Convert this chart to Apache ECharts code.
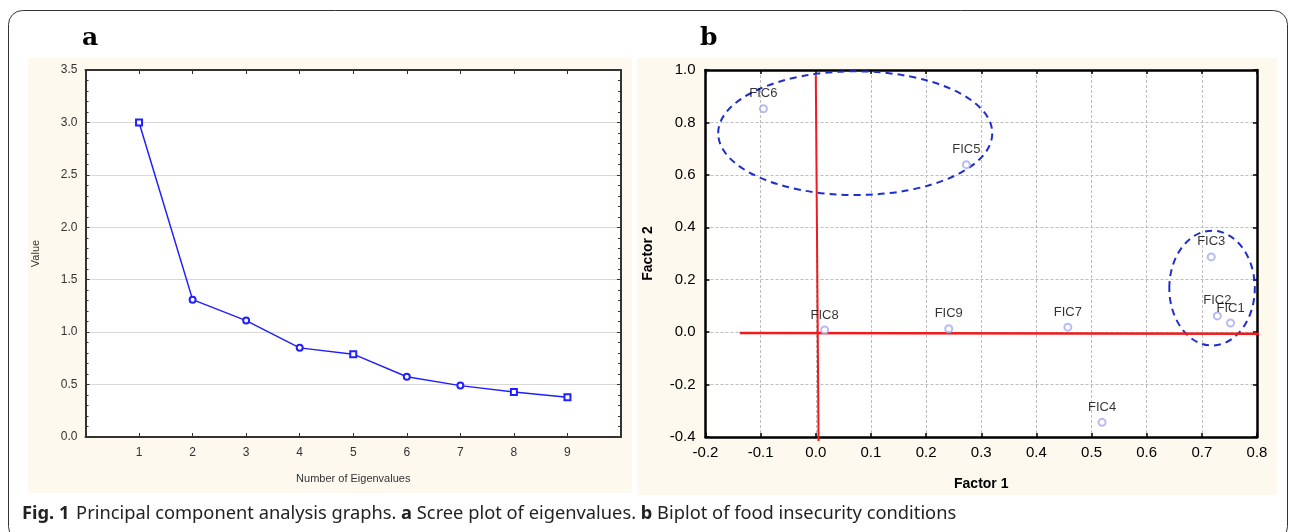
<!DOCTYPE html>
<html><head><meta charset="utf-8">
<script src="https://cdn.jsdelivr.net/npm/echarts@6/dist/echarts.min.js"></script>
<style>html,body{margin:0;padding:0;background:#fff}#c{width:1290px;height:532px}</style>
</head><body><div id="c"></div>
<script>
// Panel a: scree plot
const eigenNumbers = [1, 2, 3, 4, 5, 6, 7, 8, 9];
const eigenValues = [3.0, 1.31, 1.11, 0.85, 0.79, 0.575, 0.49, 0.43, 0.38];
const eigenSymbols = ['emptyRect','emptyCircle','emptyCircle','emptyCircle','emptyRect','emptyCircle','emptyCircle','emptyRect','emptyRect'];
// Panel b: biplot loadings
const ficNames = ['FIC6','FIC5','FIC8','FIC9','FIC7','FIC4','FIC3','FIC2','FIC1'];
const factor1 = [-0.095, 0.273, 0.016, 0.241, 0.457, 0.519, 0.717, 0.728, 0.752];
const factor2 = [0.852, 0.639, 0.008, 0.013, 0.019, -0.344, 0.287, 0.062, 0.035];
// reference lines (red)
const vLine = [[0.0, 0.98], [0.005, -0.415]];
const hLine = [[-0.138, -0.003], [0.813, -0.006]];
// cluster ellipses: [centerX, centerY, radiusX, radiusY]
const ellipses = [[0.0715, 0.759, 0.2485, 0.236], [0.7185, 0.168, 0.0775, 0.219]];

const chart = echarts.init(document.getElementById('c'), null, {renderer: 'canvas'});
const cream = '#fdf9ee';
const aLabel = {color: '#333', fontFamily: 'Arial, Liberation Sans', fontSize: 12};
const bLabel = {color: '#000', fontFamily: 'Arial, Liberation Sans', fontSize: 15};
const capFont = '"Noto Sans", "Open Sans", sans-serif';

const option = {
  backgroundColor: '#fff',
  animation: false,
  graphic: [
    {type: 'rect', z: -100, shape: {x: 28, y: 58, width: 604, height: 435}, style: {fill: cream}},
    {type: 'rect', z: -100, shape: {x: 637, y: 58, width: 640, height: 437}, style: {fill: cream}},
    {type: 'rect', z: -90, shape: {x: 85.5, y: 70, width: 535.5, height: 367}, style: {fill: '#fff'}},
    {type: 'rect', z: -90, shape: {x: 705.5, y: 70, width: 551.5, height: 367}, style: {fill: '#fff'}},
    {type: 'rect', z: 50, shape: {x: 8.5, y: 10.5, width: 1279, height: 530, r: 14}, style: {fill: 'none', stroke: '#333', lineWidth: 1}},
    {type: 'text', left: 82, top: 26, style: {text: 'a', fontFamily: 'DejaVu Serif', fontWeight: 'bold', fontSize: 25, fill: '#000'}},
    {type: 'text', left: 700, top: 26, style: {text: 'b', fontFamily: 'DejaVu Serif', fontWeight: 'bold', fontSize: 25, fill: '#000'}},
    {type: 'text', left: 22, top: 505, style: {
      text: '{b|Fig. 1}  {n|Principal component analysis graphs. }{b|a}{n| Scree plot of eigenvalues. }{b|b}{n| Biplot of food insecurity conditions}',
      rich: {
        b: {fontFamily: capFont, fontWeight: 'bold', fontSize: 18.3, fill: '#222'},
        n: {fontFamily: capFont, fontSize: 18.3, fill: '#222'}
      }
    }}
  ],
  grid: [
    {left: 85.5, top: 70, width: 535.5, height: 367},
    {left: 705.5, top: 70, width: 551.5, height: 367}
  ],
  xAxis: [
    {gridIndex: 0, type: 'value', min: 0, max: 10, interval: 1, position: 'bottom',
      name: 'Number of Eigenvalues', nameLocation: 'middle', nameGap: 36,
      nameTextStyle: {color: '#333', fontFamily: 'Arial, Liberation Sans', fontSize: 11},
      axisLine: {show: true, onZero: false, lineStyle: {color: '#333', width: 2}},
      axisTick: {show: true, inside: true, length: 4, lineStyle: {color: '#333'}},
      axisLabel: Object.assign({margin: 10, formatter: v => (v >= 1 && v <= 9) ? String(v) : ''}, aLabel),
      splitLine: {show: false}},
    {gridIndex: 0, type: 'value', min: 0, max: 10, interval: 1, position: 'top',
      axisLine: {show: true, onZero: false, lineStyle: {color: '#333', width: 2}},
      axisTick: {show: true, inside: true, length: 4, lineStyle: {color: '#333'}},
      axisLabel: {show: false}, splitLine: {show: false}},
    {gridIndex: 1, type: 'value', min: -0.2, max: 0.8, interval: 0.1, position: 'bottom',
      name: 'Factor 1', nameLocation: 'middle', nameGap: 40,
      nameTextStyle: {color: '#000', fontFamily: 'Arial, Liberation Sans', fontSize: 14, fontWeight: 'bold'},
      axisLine: {show: true, onZero: false, lineStyle: {color: '#000', width: 2.5}},
      axisTick: {show: true, inside: true, length: 4, lineStyle: {color: '#000', width: 1.5}},
      axisLabel: Object.assign({margin: 8, formatter: v => v.toFixed(1)}, bLabel),
      splitLine: {show: true, lineStyle: {color: '#bdbdbd', type: [3, 2], width: 1}}},
    {gridIndex: 1, type: 'value', min: -0.2, max: 0.8, interval: 0.1, position: 'top',
      axisLine: {show: true, onZero: false, lineStyle: {color: '#000', width: 2.5}},
      axisTick: {show: true, inside: true, length: 4, lineStyle: {color: '#000', width: 1.5}},
      axisLabel: {show: false}, splitLine: {show: false}}
  ],
  yAxis: [
    {gridIndex: 0, type: 'value', min: 0, max: 3.5, interval: 0.5, position: 'left',
      name: 'Value', nameLocation: 'middle', nameGap: 44,
      nameTextStyle: {color: '#333', fontFamily: 'Arial, Liberation Sans', fontSize: 11},
      axisLine: {show: true, onZero: false, lineStyle: {color: '#333', width: 2}},
      axisTick: {show: true, inside: true, length: 4, lineStyle: {color: '#333'}},
      minorTick: {show: true, splitNumber: 5, length: 3, lineStyle: {color: '#333'}},
      axisLabel: Object.assign({margin: 8, formatter: v => v.toFixed(1)}, aLabel),
      splitLine: {show: true, lineStyle: {color: '#b0b0b0', type: [1, 1], width: 1}}},
    {gridIndex: 0, type: 'value', min: 0, max: 3.5, interval: 0.5, position: 'right',
      axisLine: {show: true, onZero: false, lineStyle: {color: '#333', width: 2}},
      axisTick: {show: true, inside: true, length: 4, lineStyle: {color: '#333'}},
      minorTick: {show: true, splitNumber: 5, length: 3, lineStyle: {color: '#333'}},
      axisLabel: {show: false}, splitLine: {show: false}},
    {gridIndex: 1, type: 'value', min: -0.4, max: 1.0, interval: 0.2, position: 'left',
      name: 'Factor 2', nameLocation: 'middle', nameGap: 50,
      nameTextStyle: {color: '#000', fontFamily: 'Arial, Liberation Sans', fontSize: 14, fontWeight: 'bold'},
      axisLine: {show: true, onZero: false, lineStyle: {color: '#000', width: 2.5}},
      axisTick: {show: true, inside: true, length: 4, lineStyle: {color: '#000', width: 1.5}},
      axisLabel: Object.assign({margin: 10, formatter: v => v.toFixed(1)}, bLabel),
      splitLine: {show: true, lineStyle: {color: '#bdbdbd', type: [3, 2], width: 1}}},
    {gridIndex: 1, type: 'value', min: -0.4, max: 1.0, interval: 0.2, position: 'right',
      axisLine: {show: true, onZero: false, lineStyle: {color: '#000', width: 2.5}},
      axisTick: {show: true, inside: true, length: 4, lineStyle: {color: '#000', width: 1.5}},
      axisLabel: {show: false}, splitLine: {show: false}}
  ],
  series: [
    {type: 'line', xAxisIndex: 0, yAxisIndex: 0,
      data: eigenNumbers.map((n, i) => ({value: [n, eigenValues[i]], symbol: eigenSymbols[i]})),
      symbolSize: 6, showAllSymbol: true,
      lineStyle: {color: '#2020ff', width: 1.5},
      itemStyle: {color: '#2020ff', borderColor: '#2020ff', borderWidth: 1.2}},
    {type: 'custom', xAxisIndex: 2, yAxisIndex: 2, clip: false,
      data: ellipses,
      renderItem: function (params, api) {
        const c = api.coord([api.value(0), api.value(1)]);
        const rx = api.size([api.value(2), 0])[0];
        const ry = api.size([0, api.value(3)])[1];
        return {type: 'ellipse', shape: {cx: c[0], cy: c[1], rx: rx, ry: ry},
          style: {fill: null, stroke: '#1f2fcc', lineWidth: 2, lineDash: [7, 5]}};
      }, z: 3},
    {type: 'line', xAxisIndex: 2, yAxisIndex: 2, data: vLine, symbol: 'none', clip: false,
      lineStyle: {color: '#ee1c1c', width: 2}, z: 4},
    {type: 'line', xAxisIndex: 2, yAxisIndex: 2, data: hLine, symbol: 'none', clip: false,
      lineStyle: {color: '#ee1c1c', width: 2.5}, z: 4},
    {type: 'scatter', xAxisIndex: 2, yAxisIndex: 2,
      data: ficNames.map((n, i) => ({name: n, value: [factor1[i], factor2[i]]})),
      symbol: 'emptyCircle', symbolSize: 7,
      itemStyle: {color: '#a8a8f0', borderColor: '#a8a8f0', borderWidth: 1},
      label: {show: true, position: 'top', distance: 4, formatter: p => p.name,
        color: '#000', fontFamily: 'Arial, Liberation Sans', fontSize: 13}, z: 5}
  ]
};
chart.setOption(option);
</script></body></html>
